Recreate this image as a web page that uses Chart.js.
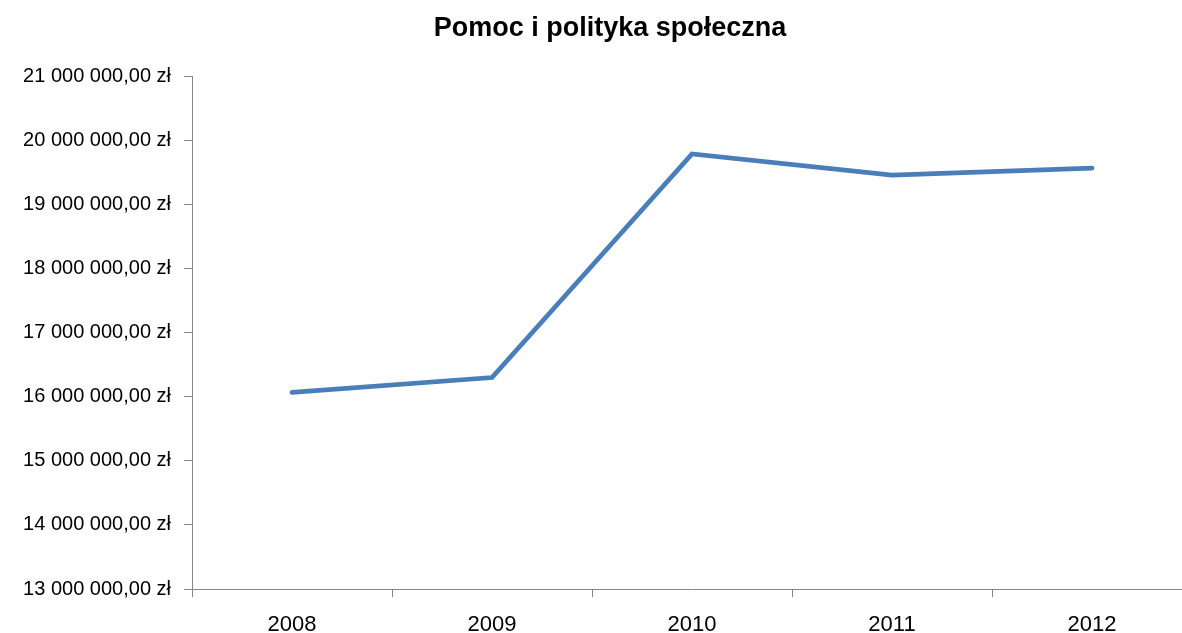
<!DOCTYPE html>
<html lang="pl">
<head>
    <meta charset="UTF-8">
    <title>Pomoc i polityka społeczna</title>
    <script src="https://cdn.jsdelivr.net/npm/chart.js"></script>
    <style>
        html, body { margin: 0; padding: 0; overflow: hidden; background: #fff; }
        canvas { display: block; }
    </style>
</head>
<body>
    <canvas id="wykres" width="1220" height="633" style="width:1220px;height:633px"></canvas>
    <script>
        // dane z wykresu
        const lata = ['2008', '2009', '2010', '2011', '2012'];
        const kwoty = [16070000, 16300000, 19790000, 19460000, 19570000];
        const osY = [13000000, 14000000, 15000000, 16000000, 17000000, 18000000, 19000000, 20000000, 21000000];

        const szary = '#868686';

        // 21000000 -> "21 000 000,00 zł"
        function formatujZl(v) {
            const s = Math.round(v).toString().replace(/\B(?=(\d{3})+(?!\d))/g, ' ');
            return s + ',00 zł';
        }

        // tytuł lekko w prawo, jak w oryginale
        const przesunTytul = {
            id: 'przesunTytul',
            afterLayout(chart) {
                if (chart.titleBlock) {
                    chart.titleBlock.left += 14;
                    chart.titleBlock.right += 14;
                }
            }
        };

        const ctx = document.getElementById('wykres').getContext('2d');
        const wykres = new Chart(ctx, {
            type: 'line',
            data: {
                labels: lata,
                datasets: [{
                    label: 'Pomoc i polityka społeczna',
                    data: kwoty,
                    borderColor: '#4a7ebb',
                    borderWidth: 4.8,
                    borderCapStyle: 'round',
                    pointRadius: 0,
                    tension: 0,
                    fill: false
                }]
            },
            options: {
                responsive: false,
                animation: false,
                // canvas szerszy niż okno, żeby oś X dochodziła do krawędzi
                layout: { padding: { left: 0, right: 28, top: 0, bottom: 0 } },
                plugins: {
                    legend: { display: false },
                    tooltip: { enabled: false },
                    title: {
                        display: true,
                        text: 'Pomoc i polityka społeczna',
                        color: '#000',
                        font: { family: 'Liberation Sans', size: 27, weight: 'bold', lineHeight: 1.2 },
                        padding: { top: 12, bottom: 32 }
                    }
                },
                scales: {
                    x: {
                        offset: true,
                        border: { color: szary, width: 1 },
                        grid: { offset: true, drawOnChartArea: false, drawTicks: true, tickLength: 8, color: szary },
                        ticks: {
                            color: '#000',
                            padding: 15,
                            maxRotation: 0,
                            font: { family: 'Liberation Sans', size: 22 }
                        },
                        afterFit: function (scale) { scale.height = 44; }
                    },
                    y: {
                        min: osY[0],
                        max: osY[osY.length - 1],
                        afterBuildTicks: function (scale) {
                            scale.ticks = osY.map(v => ({ value: v }));
                        },
                        border: { color: szary, width: 1 },
                        grid: { drawOnChartArea: false, drawTicks: true, tickLength: 8, color: szary },
                        ticks: {
                            color: '#000',
                            padding: 13,
                            font: { family: 'Liberation Sans', size: 20 },
                            callback: function (v) { return formatujZl(v); }
                        },
                        afterFit: function (scale) { scale.width = 192; }
                    }
                }
            },
            plugins: [przesunTytul]
        });
    </script>
</body>
</html>
